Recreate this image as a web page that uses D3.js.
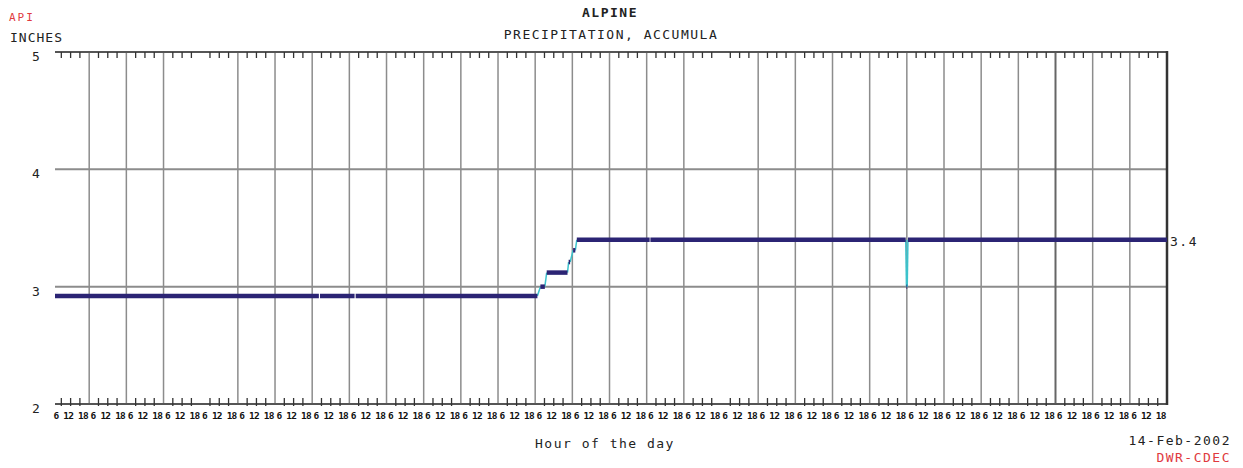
<!DOCTYPE html>
<html>
<head>
<meta charset="utf-8">
<script src="https://cdn.jsdelivr.net/npm/d3@7"></script>
<style>
  body { margin: 0; background: #fff; }
  svg text { font-family: "DejaVu Sans Mono", monospace; }
</style>
</head>
<body>
<svg width="1243" height="468"></svg>
<script>
// donnees (jours depuis le debut, pouces)
var runStart = [0.08, 7.21, 8.17, 13.14, 13.31, 13.90, 14.02, 14.12, 16.10, 22.99, 23.03];
var runEnd   = [7.18, 8.14, 13.06, 13.26, 13.87, 13.94, 14.08, 16.08, 22.97, 23.01, 30.00];
var runValue = [2.92, 2.92, 2.92, 3.00, 3.12, 3.21, 3.31, 3.40, 3.40, 3.00, 3.40];
var yTicks = [2, 3, 4, 5];
var dayLabel = "6 12 18";
var lastValue = "3.4";

var svg = d3.select("svg");
var plotLeft = 55, plotRight = 1167, plotTop = 52, plotBottom = 404;

var x = d3.scaleLinear().domain([0.08, 30]).range([plotLeft, plotRight]);
var y = d3.scaleLinear().domain([2, 5]).range([plotBottom, plotTop]);

var grid = svg.append("g");

// lignes horizontales
grid.selectAll(".hline")
    .data([3, 4])
    .enter().append("line")
    .attr("x1", plotLeft).attr("x2", plotRight)
    .attr("y1", function(d) { return y(d); })
    .attr("y2", function(d) { return y(d); })
    .attr("stroke", "#8c8c8c")
    .attr("stroke-width", 2);

// lignes verticales (jours) - deux manquent sur l'original
var gridDays = d3.range(1, 30).filter(function(d) { return d !== 4 && d !== 18; });
grid.selectAll(".vline")
    .data(gridDays)
    .enter().append("line")
    .attr("x1", function(d) { return x(d); })
    .attr("x2", function(d) { return x(d); })
    .attr("y1", plotTop).attr("y2", plotBottom)
    .attr("stroke", function(d) { return d === 27 ? "#666" : "#8c8c8c"; })
    .attr("stroke-width", function(d) { return d === 27 ? 2 : 1.5; });

// cadre
svg.append("line").attr("x1", plotLeft).attr("x2", plotRight).attr("y1", plotTop).attr("y2", plotTop)
    .attr("stroke", "#555").attr("stroke-width", 2);
svg.append("line").attr("x1", plotLeft).attr("x2", plotRight).attr("y1", plotBottom).attr("y2", plotBottom)
    .attr("stroke", "#555").attr("stroke-width", 2);
svg.append("line").attr("x1", plotRight).attr("x2", plotRight).attr("y1", plotTop - 1).attr("y2", plotBottom + 1)
    .attr("stroke", "#333").attr("stroke-width", 2.5);

// graduations toutes les 6 heures
var hourTicks = [];
d3.range(0, 30).forEach(function(day) {
    [0.25, 0.5, 0.75].forEach(function(f) { hourTicks.push(day + f); });
});
hourTicks = hourTicks.filter(function(t) { return t > 0.08; });

svg.selectAll(".ttop")
    .data(hourTicks)
    .enter().append("line")
    .attr("x1", function(d) { return x(d); })
    .attr("x2", function(d) { return x(d); })
    .attr("y1", plotTop).attr("y2", plotTop + 6)
    .attr("stroke", "#333").attr("stroke-width", 1.3);

svg.selectAll(".tbot")
    .data(hourTicks)
    .enter().append("line")
    .attr("x1", function(d) { return x(d); })
    .attr("x2", function(d) { return x(d); })
    .attr("y1", plotBottom - 6).attr("y2", plotBottom + 2)
    .attr("stroke", "#333").attr("stroke-width", 1.3);

// une etiquette "6 12 18" par jour
svg.selectAll(".dlab")
    .data(d3.range(0, 30))
    .enter().append("text")
    .attr("x", function(d) { return x(d + 0.5); })
    .attr("y", plotBottom + 15)
    .attr("text-anchor", "middle")
    .attr("font-size", "9.5px")
    .attr("font-weight", "bold")
    .attr("letter-spacing", "-0.8px")
    .attr("fill", "#111")
    .text(dayLabel);

// etiquettes axe Y
svg.selectAll(".ylab")
    .data(yTicks)
    .enter().append("text")
    .attr("x", 36)
    .attr("y", function(d) { return y(d) + 9; })
    .attr("text-anchor", "middle")
    .attr("font-size", "13px")
    .attr("fill", "#222")
    .text(function(d) { return d; });

// traits de transition (cyan)
var links = [];
for (var i = 1; i < runStart.length; i++) {
    if (runValue[i] !== runValue[i - 1]) {
        links.push({ t1: runEnd[i - 1], v1: runValue[i - 1], t2: runStart[i], v2: runValue[i] });
    }
}
svg.selectAll(".link")
    .data(links)
    .enter().append("line")
    .attr("x1", function(d) { return x(d.t1); })
    .attr("y1", function(d) { return y(d.v1); })
    .attr("x2", function(d) { return x(d.t2); })
    .attr("y2", function(d) { return y(d.v2); })
    .attr("stroke", "#3cc3cc")
    .attr("stroke-width", 1.5);

// paliers (bleu fonce)
var runs = runStart.map(function(s, i) { return { s: s, e: runEnd[i], v: runValue[i] }; });
svg.selectAll(".run")
    .data(runs)
    .enter().append("line")
    .attr("x1", function(d) { return x(d.s); })
    .attr("x2", function(d) { return x(d.e); })
    .attr("y1", function(d) { return y(d.v); })
    .attr("y2", function(d) { return y(d.v); })
    .attr("stroke", "#2b2474")
    .attr("stroke-width", 4.5);

// textes
function label(tx, ty, str, opts) {
    opts = opts || {};
    svg.append("text")
        .attr("x", tx).attr("y", ty)
        .attr("text-anchor", opts.anchor || "start")
        .attr("font-size", opts.size || "13px")
        .attr("font-weight", opts.weight || "normal")
        .attr("letter-spacing", opts.spacing || "1.5px")
        .attr("fill", opts.color || "#222")
        .text(str);
}
label(9, 21, "API", { color: "#e0393e", size: "11px", spacing: "2px" });
label(10, 42, "INCHES", { spacing: "1px" });
label(610, 17, "ALPINE", { anchor: "middle", weight: "bold" });
label(611, 39, "PRECIPITATION, ACCUMULA", { anchor: "middle" });
label(605, 448, "Hour of the day", { anchor: "middle" });
label(1231, 445, "14-Feb-2002", { anchor: "end" });
label(1231, 462, "DWR-CDEC", { anchor: "end", color: "#e0393e" });
label(1170, y(3.4) + 6, lastValue, { spacing: "1.5px" });
</script>
</body>
</html>
